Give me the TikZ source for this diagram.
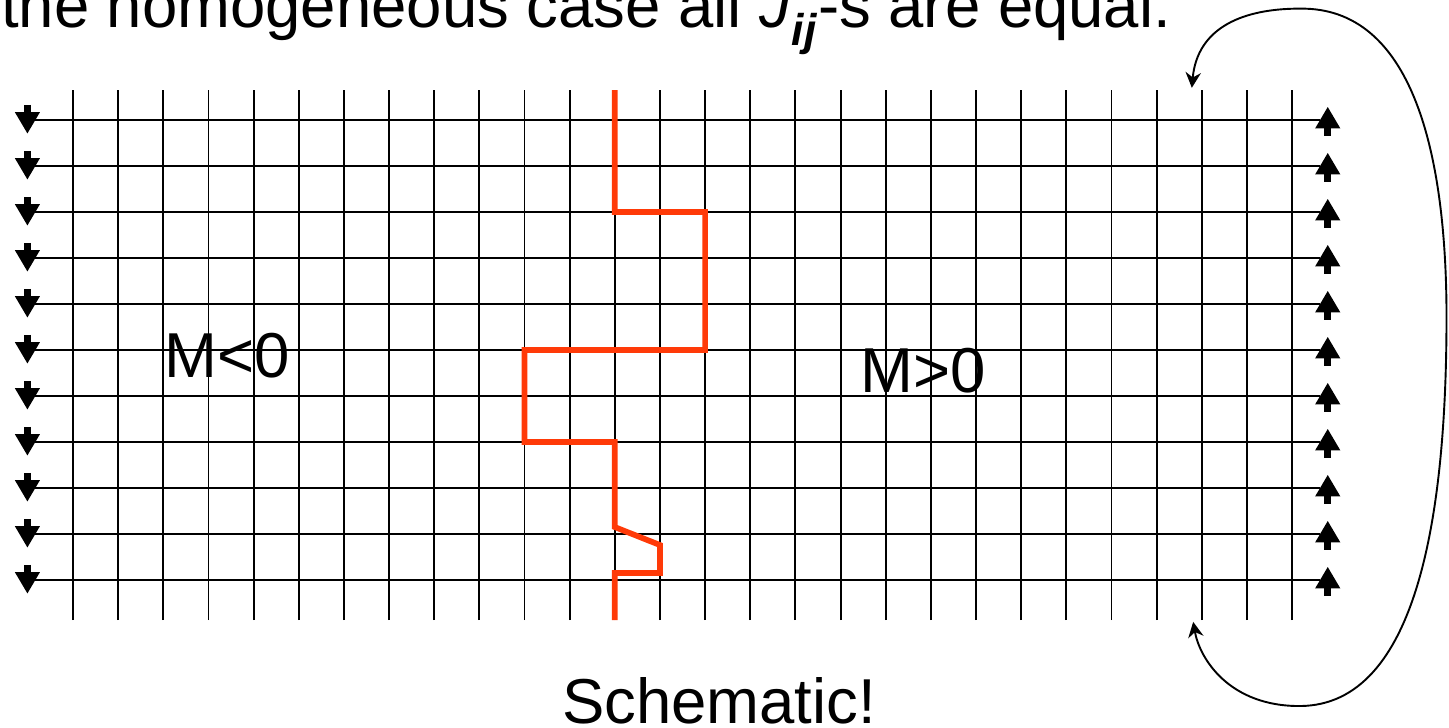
\documentclass[tikz,border=0pt]{standalone}
\usepackage{fontspec}
\setmainfont{Liberation Sans}
\usepackage{tikz}
\usetikzlibrary{arrows.meta,calc,positioning}
\definecolor{wallred}{RGB}{255,58,8}

\begin{document}
\begin{tikzpicture}[>=Stealth,line join=round,
 x=1cm,y=1.0188cm,
 gridline/.style={black,line width=1.2pt},
 spinarrow/.style={black,line width=0.155cm,-{Triangle[length=0.48cm,width=0.52cm]}},
 wallline/.style={wallred,line width=3.6pt,line join=miter},
 bigtext/.style={font=\fontsize{40}{46}\selectfont,inner sep=0pt}]
 \useasboundingbox (-1.617,-3.217) rectangle (30.476,12.609);
 % lattice
 \foreach \i in {0,...,27}
  \draw[gridline] (\i,-0.87)--(\i,10.65);
 \foreach \j in {0,...,10}{
  \draw[gridline] (-0.84,\j)--(27.62,\j);
  \draw[black,line width=1.6pt] (12.93,\j)--(13.73,\j);
 }
 % spins
 \foreach \j in {0,...,10}{
  \draw[spinarrow] (-1.01,\j+0.33)--(-1.01,\j-0.30);
  \draw[spinarrow] (27.79,\j-0.34)--(27.79,\j+0.29);
 }
 % domain wall
 \draw[wallline] (12,10.65)--(12,8)--(14,8)--(14,5)--(10,5)--(10,3)
  --(12,3)--(12,1.15)--(13,0.76)--(13,0.15)--(12,0.15)--(12,-0.87);
 % periodic boundary
 \coordinate (pbtop) at (24.78,10.70);
 \coordinate (pbbot) at (24.81,-0.91);
 \draw[black,line width=1.2pt,{Stealth[length=0.34cm,width=0.34cm]}-{Stealth[length=0.34cm,width=0.34cm]}]
  (pbtop) .. controls (24.9,12.0) and (25.9,12.45) .. (27.3,12.42)
  .. controls (29.7,12.35) and (30.45,9.2) .. (30.42,5.5)
  .. controls (30.4,1.5) and (29.8,-2.72) .. (27.18,-2.74)
  .. controls (25.6,-2.75) and (24.95,-1.7) .. (pbbot);
 \node[bigtext,anchor=base west] (title) at (-1.6,12.02)
  {the homogeneous case all \textit{J}\textsubscript{\textbf{\textit{ij}}}-s are equal.};
 \node[bigtext,anchor=base] (mneg) at (3.42,4.41) {M<0};
 \node[bigtext,anchor=base] (mpos) at (18.83,4.07) {M>0};
 \node[bigtext,anchor=base] (note) at (14.31,-3.11) {Schematic!};
\end{tikzpicture}
\end{document}
